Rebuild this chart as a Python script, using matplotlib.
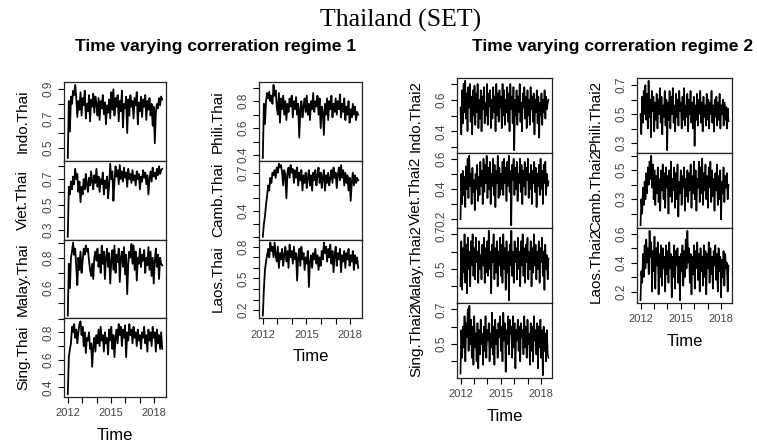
import numpy as np
import matplotlib
matplotlib.use('Agg')
import matplotlib.pyplot as plt
from matplotlib.ticker import MultipleLocator, FuncFormatter

W, H = 757, 447
START, END = 2012.0, 2018.55

# regime 1 correlations
indo = [0.43, 0.82, 0.61, 0.85, 0.80, 0.89, 0.86, 0.93, 0.84, 0.71, 0.82, 0.76, 0.88, 0.72, 0.84, 0.79, 0.89, 0.70,
        0.80, 0.75, 0.86, 0.68, 0.83, 0.78, 0.87, 0.74, 0.85, 0.80, 0.72, 0.84, 0.69, 0.82, 0.77, 0.86, 0.73, 0.81,
        0.66, 0.79, 0.74, 0.83, 0.70, 0.88, 0.76, 0.90, 0.72, 0.84, 0.78, 0.86, 0.68, 0.82, 0.75, 0.89, 0.64, 0.80,
        0.77, 0.85, 0.60, 0.83, 0.72, 0.86, 0.78, 0.82, 0.70, 0.84, 0.79, 0.88, 0.66, 0.81, 0.75, 0.85, 0.71, 0.83,
        0.78, 0.86, 0.69, 0.82, 0.76, 0.84, 0.72, 0.80, 0.65, 0.78, 0.53, 0.74, 0.80, 0.77, 0.84, 0.79, 0.85, 0.83]
viet = [0.25, 0.64, 0.58, 0.68, 0.62, 0.72, 0.66, 0.78, 0.70, 0.74, 0.60, 0.68, 0.52, 0.64, 0.58, 0.70, 0.62, 0.74,
        0.66, 0.60, 0.71, 0.65, 0.76, 0.68, 0.62, 0.73, 0.67, 0.78, 0.64, 0.72, 0.60, 0.70, 0.66, 0.75, 0.58, 0.69,
        0.63, 0.72, 0.55, 0.66, 0.82, 0.70, 0.76, 0.53, 0.68, 0.80, 0.72, 0.77, 0.66, 0.81, 0.70, 0.76, 0.68, 0.79,
        0.71, 0.75, 0.64, 0.78, 0.70, 0.74, 0.67, 0.77, 0.69, 0.73, 0.65, 0.76, 0.70, 0.74, 0.62, 0.72, 0.68, 0.77,
        0.71, 0.75, 0.66, 0.73, 0.58, 0.70, 0.76, 0.68, 0.79, 0.72, 0.75, 0.70, 0.78, 0.73, 0.80, 0.74, 0.77, 0.78]
malay = [0.42, 0.76, 0.60, 0.80, 0.84, 0.90, 0.82, 0.86, 0.74, 0.62, 0.80, 0.72, 0.84, 0.70, 0.78, 0.86, 0.82, 0.88,
         0.84, 0.86, 0.78, 0.72, 0.68, 0.76, 0.66, 0.80, 0.84, 0.78, 0.86, 0.74, 0.82, 0.70, 0.88, 0.76, 0.84, 0.66,
         0.80, 0.86, 0.74, 0.83, 0.63, 0.78, 0.85, 0.72, 0.88, 0.70, 0.82, 0.77, 0.86, 0.64, 0.80, 0.84, 0.74, 0.87,
         0.69, 0.82, 0.56, 0.76, 0.84, 0.80, 0.89, 0.76, 0.88, 0.72, 0.84, 0.65, 0.80, 0.76, 0.86, 0.74, 0.82, 0.78,
         0.85, 0.70, 0.80, 0.75, 0.87, 0.72, 0.84, 0.68, 0.80, 0.63, 0.78, 0.86, 0.74, 0.82, 0.66, 0.80, 0.76, 0.75]
sing = [0.35, 0.62, 0.68, 0.72, 0.84, 0.80, 0.86, 0.76, 0.82, 0.72, 0.80, 0.86, 0.88, 0.78, 0.84, 0.70, 0.80, 0.65,
        0.76, 0.74, 0.80, 0.68, 0.72, 0.55, 0.70, 0.76, 0.66, 0.78, 0.72, 0.82, 0.70, 0.84, 0.74, 0.78, 0.66, 0.80,
        0.72, 0.76, 0.64, 0.82, 0.74, 0.84, 0.68, 0.78, 0.62, 0.76, 0.82, 0.72, 0.86, 0.78, 0.84, 0.70, 0.82, 0.76,
        0.85, 0.62, 0.80, 0.74, 0.86, 0.78, 0.82, 0.72, 0.84, 0.76, 0.80, 0.70, 0.82, 0.74, 0.78, 0.68, 0.80, 0.76,
        0.84, 0.72, 0.78, 0.66, 0.82, 0.74, 0.80, 0.70, 0.84, 0.76, 0.80, 0.66, 0.82, 0.72, 0.78, 0.68, 0.80, 0.68]
phili = [0.38, 0.78, 0.63, 0.80, 0.86, 0.82, 0.87, 0.80, 0.84, 0.78, 0.92, 0.84, 0.88, 0.76, 0.70, 0.86, 0.64, 0.82,
         0.74, 0.84, 0.70, 0.80, 0.66, 0.78, 0.72, 0.82, 0.76, 0.84, 0.68, 0.80, 0.74, 0.83, 0.70, 0.78, 0.53, 0.74,
         0.80, 0.68, 0.76, 0.82, 0.72, 0.84, 0.70, 0.78, 0.66, 0.80, 0.74, 0.86, 0.72, 0.80, 0.76, 0.84, 0.70, 0.82,
         0.60, 0.76, 0.72, 0.55, 0.78, 0.70, 0.82, 0.66, 0.80, 0.74, 0.84, 0.68, 0.78, 0.72, 0.82, 0.70, 0.80, 0.74,
         0.85, 0.68, 0.78, 0.72, 0.82, 0.66, 0.76, 0.70, 0.80, 0.64, 0.74, 0.68, 0.78, 0.70, 0.76, 0.66, 0.72, 0.70]
camb = [0.20, 0.30, 0.36, 0.45, 0.52, 0.60, 0.56, 0.66, 0.62, 0.70, 0.68, 0.72, 0.66, 0.74, 0.70, 0.77, 0.74, 0.76,
        0.70, 0.60, 0.72, 0.68, 0.50, 0.70, 0.74, 0.66, 0.76, 0.70, 0.73, 0.62, 0.72, 0.66, 0.74, 0.60, 0.70, 0.64,
        0.72, 0.56, 0.68, 0.62, 0.70, 0.58, 0.66, 0.72, 0.60, 0.68, 0.56, 0.70, 0.64, 0.72, 0.60, 0.68, 0.74, 0.62,
        0.70, 0.58, 0.66, 0.72, 0.56, 0.68, 0.62, 0.70, 0.60, 0.66, 0.72, 0.62, 0.74, 0.66, 0.70, 0.58, 0.68, 0.74,
        0.64, 0.76, 0.66, 0.72, 0.60, 0.70, 0.62, 0.68, 0.56, 0.66, 0.48, 0.62, 0.70, 0.60, 0.68, 0.62, 0.66, 0.64]
laos = [0.15, 0.40, 0.58, 0.66, 0.72, 0.78, 0.70, 0.84, 0.76, 0.80, 0.70, 0.84, 0.72, 0.66, 0.80, 0.60, 0.74, 0.68,
        0.78, 0.62, 0.72, 0.80, 0.66, 0.76, 0.60, 0.82, 0.70, 0.76, 0.64, 0.80, 0.68, 0.74, 0.48, 0.70, 0.78, 0.62,
        0.80, 0.68, 0.74, 0.58, 0.70, 0.64, 0.76, 0.42, 0.66, 0.72, 0.60, 0.74, 0.68, 0.78, 0.64, 0.72, 0.58, 0.70,
        0.62, 0.76, 0.68, 0.84, 0.74, 0.80, 0.66, 0.78, 0.70, 0.82, 0.64, 0.76, 0.56, 0.72, 0.80, 0.62, 0.74, 0.68,
        0.78, 0.56, 0.72, 0.66, 0.76, 0.60, 0.74, 0.68, 0.78, 0.62, 0.72, 0.66, 0.76, 0.58, 0.72, 0.64, 0.70, 0.60]

# regime 2 correlations
indo2 = [0.55, 0.38, 0.66, 0.45, 0.70, 0.52, 0.72, 0.48, 0.64, 0.40, 0.68, 0.55, 0.70, 0.46, 0.62, 0.38, 0.66, 0.50,
         0.69, 0.44, 0.64, 0.52, 0.70, 0.42, 0.60, 0.48, 0.66, 0.40, 0.62, 0.54, 0.68, 0.45, 0.58, 0.50, 0.70, 0.44,
         0.64, 0.56, 0.66, 0.42, 0.60, 0.48, 0.68, 0.52, 0.62, 0.40, 0.70, 0.50, 0.64, 0.46, 0.66, 0.55, 0.62, 0.42,
         0.70, 0.50, 0.66, 0.44, 0.60, 0.52, 0.68, 0.46, 0.64, 0.40, 0.70, 0.54, 0.62, 0.45, 0.68, 0.28, 0.60, 0.50,
         0.66, 0.44, 0.62, 0.52, 0.70, 0.46, 0.58, 0.40, 0.64, 0.55, 0.68, 0.48, 0.62, 0.42, 0.66, 0.50, 0.60, 0.44,
         0.68, 0.54, 0.62, 0.46, 0.64, 0.38, 0.60, 0.52, 0.66, 0.45, 0.62, 0.36, 0.58, 0.50, 0.64, 0.44, 0.60, 0.52,
         0.66, 0.48, 0.62, 0.54, 0.58, 0.60]
viet2 = [0.20, 0.50, 0.30, 0.52, 0.36, 0.48, 0.28, 0.55, 0.40, 0.60, 0.34, 0.62, 0.42, 0.50, 0.30, 0.54, 0.38, 0.46,
         0.26, 0.50, 0.40, 0.56, 0.32, 0.48, 0.36, 0.58, 0.42, 0.52, 0.30, 0.60, 0.38, 0.56, 0.44, 0.62, 0.34, 0.54,
         0.40, 0.58, 0.30, 0.50, 0.42, 0.60, 0.36, 0.56, 0.28, 0.52, 0.44, 0.62, 0.34, 0.54, 0.36, 0.50, 0.40, 0.58,
         0.36, 0.60, 0.44, 0.54, 0.32, 0.58, 0.42, 0.62, 0.38, 0.52, 0.16, 0.56, 0.46, 0.60, 0.36, 0.54, 0.40, 0.58,
         0.32, 0.50, 0.44, 0.60, 0.38, 0.56, 0.30, 0.52, 0.42, 0.58, 0.36, 0.54, 0.46, 0.60, 0.34, 0.50, 0.40, 0.56,
         0.30, 0.52, 0.44, 0.58, 0.38, 0.54, 0.28, 0.50, 0.42, 0.56, 0.36, 0.60, 0.40, 0.52, 0.30, 0.56, 0.44, 0.58,
         0.36, 0.50, 0.42, 0.45]
malay2 = [0.40, 0.66, 0.38, 0.62, 0.48, 0.70, 0.42, 0.64, 0.36, 0.68, 0.50, 0.60, 0.40, 0.66, 0.52, 0.70, 0.46, 0.62,
          0.44, 0.68, 0.54, 0.60, 0.42, 0.66, 0.50, 0.58, 0.44, 0.64, 0.52, 0.68, 0.42, 0.62, 0.48, 0.66, 0.46, 0.72,
          0.50, 0.60, 0.36, 0.64, 0.54, 0.70, 0.44, 0.62, 0.48, 0.66, 0.40, 0.60, 0.52, 0.68, 0.46, 0.64, 0.42, 0.70,
          0.50, 0.62, 0.38, 0.66, 0.48, 0.60, 0.32, 0.64, 0.52, 0.72, 0.46, 0.60, 0.42, 0.66, 0.54, 0.62, 0.44, 0.68,
          0.50, 0.60, 0.40, 0.66, 0.52, 0.70, 0.46, 0.62, 0.42, 0.64, 0.54, 0.68, 0.44, 0.60, 0.50, 0.66, 0.40, 0.62,
          0.48, 0.70, 0.52, 0.64, 0.44, 0.60, 0.50, 0.66, 0.42, 0.62, 0.54, 0.68, 0.46, 0.60, 0.38, 0.64, 0.50, 0.58,
          0.44, 0.56]
sing2 = [0.33, 0.58, 0.42, 0.60, 0.48, 0.66, 0.40, 0.62, 0.54, 0.70, 0.46, 0.72, 0.50, 0.64, 0.42, 0.60, 0.38, 0.66,
         0.48, 0.56, 0.40, 0.62, 0.36, 0.58, 0.44, 0.64, 0.50, 0.56, 0.38, 0.60, 0.46, 0.66, 0.42, 0.58, 0.52, 0.62,
         0.40, 0.56, 0.48, 0.68, 0.44, 0.60, 0.38, 0.64, 0.50, 0.58, 0.42, 0.62, 0.54, 0.66, 0.46, 0.60, 0.40, 0.68,
         0.52, 0.62, 0.34, 0.58, 0.50, 0.66, 0.44, 0.64, 0.56, 0.60, 0.42, 0.66, 0.48, 0.62, 0.36, 0.58, 0.52, 0.64,
         0.46, 0.60, 0.40, 0.62, 0.54, 0.58, 0.44, 0.66, 0.48, 0.60, 0.42, 0.64, 0.50, 0.56, 0.38, 0.62, 0.46, 0.60,
         0.40, 0.66, 0.52, 0.58, 0.44, 0.62, 0.36, 0.60, 0.48, 0.64, 0.42, 0.58, 0.32, 0.60, 0.46, 0.56, 0.40, 0.58,
         0.44, 0.42]
phili2 = [0.50, 0.36, 0.62, 0.44, 0.66, 0.50, 0.70, 0.46, 0.64, 0.40, 0.73, 0.48, 0.60, 0.34, 0.66, 0.52, 0.62, 0.38,
          0.58, 0.46, 0.64, 0.40, 0.60, 0.50, 0.68, 0.44, 0.62, 0.36, 0.56, 0.48, 0.66, 0.42, 0.60, 0.25, 0.58, 0.46,
          0.66, 0.40, 0.62, 0.50, 0.68, 0.44, 0.56, 0.38, 0.64, 0.48, 0.60, 0.42, 0.66, 0.52, 0.58, 0.40, 0.62, 0.46,
          0.68, 0.42, 0.56, 0.48, 0.64, 0.38, 0.60, 0.50, 0.66, 0.44, 0.58, 0.40, 0.62, 0.28, 0.56, 0.46, 0.64, 0.42,
          0.60, 0.50, 0.66, 0.44, 0.58, 0.38, 0.62, 0.48, 0.56, 0.42, 0.64, 0.46, 0.60, 0.40, 0.58, 0.50, 0.66, 0.44,
          0.56, 0.38, 0.60, 0.48, 0.62, 0.42, 0.58, 0.46, 0.64, 0.40, 0.56, 0.50, 0.60, 0.42, 0.58, 0.46, 0.55, 0.40,
          0.54, 0.45]
camb2 = [0.12, 0.30, 0.20, 0.38, 0.26, 0.42, 0.30, 0.48, 0.34, 0.52, 0.40, 0.56, 0.44, 0.60, 0.38, 0.54, 0.30, 0.50,
         0.26, 0.46, 0.34, 0.52, 0.28, 0.44, 0.22, 0.50, 0.36, 0.54, 0.30, 0.48, 0.24, 0.52, 0.38, 0.46, 0.20, 0.50,
         0.32, 0.56, 0.28, 0.44, 0.36, 0.52, 0.24, 0.48, 0.30, 0.54, 0.18, 0.42, 0.34, 0.50, 0.26, 0.46, 0.38, 0.52,
         0.22, 0.44, 0.32, 0.50, 0.28, 0.48, 0.36, 0.54, 0.24, 0.46, 0.34, 0.56, 0.30, 0.50, 0.22, 0.44, 0.38, 0.56,
         0.28, 0.52, 0.34, 0.58, 0.26, 0.48, 0.36, 0.54, 0.30, 0.46, 0.24, 0.52, 0.38, 0.56, 0.28, 0.50, 0.32, 0.44,
         0.22, 0.48, 0.36, 0.54, 0.26, 0.46, 0.30, 0.50, 0.16, 0.42, 0.34, 0.52, 0.28, 0.46, 0.38, 0.48, 0.30, 0.40]
laos2 = [0.14, 0.34, 0.26, 0.46, 0.30, 0.52, 0.36, 0.56, 0.40, 0.50, 0.32, 0.62, 0.44, 0.54, 0.20, 0.48, 0.34, 0.58,
         0.22, 0.50, 0.38, 0.54, 0.18, 0.46, 0.30, 0.52, 0.24, 0.50, 0.36, 0.44, 0.20, 0.52, 0.32, 0.48, 0.26, 0.54,
         0.36, 0.46, 0.16, 0.44, 0.30, 0.52, 0.22, 0.48, 0.38, 0.50, 0.26, 0.44, 0.14, 0.46, 0.34, 0.52, 0.24, 0.48,
         0.30, 0.56, 0.36, 0.62, 0.40, 0.50, 0.26, 0.46, 0.18, 0.44, 0.32, 0.52, 0.22, 0.48, 0.36, 0.54, 0.28, 0.46,
         0.20, 0.50, 0.34, 0.44, 0.24, 0.52, 0.30, 0.48, 0.18, 0.46, 0.36, 0.54, 0.26, 0.50, 0.32, 0.44, 0.22, 0.48,
         0.38, 0.52, 0.28, 0.46, 0.20, 0.50, 0.34, 0.44, 0.16, 0.42, 0.30, 0.48, 0.24, 0.46, 0.36, 0.40, 0.20, 0.38]

# (name, series, labelled ticks)
col1 = [('Indo.Thai', indo, [0.5, 0.7, 0.9]), ('Viet.Thai', viet, [0.3, 0.5, 0.7]),
        ('Malay.Thai', malay, [0.4, 0.6, 0.8]), ('Sing.Thai', sing, [0.4, 0.6, 0.8])]
col2 = [('Phili.Thai', phili, [0.4, 0.6, 0.8]), ('Camb.Thai', camb, [0.4, 0.7]),
        ('Laos.Thai', laos, [0.2, 0.5, 0.8])]
col3 = [('Indo.Thai2', indo2, [0.4, 0.6]), ('Viet.Thai2', viet2, [0.2, 0.4, 0.6]),
        ('Malay.Thai2', malay2, [0.3, 0.5, 0.7]), ('Sing.Thai2', sing2, [0.3, 0.5, 0.7])]
col4 = [('Phili.Thai2', phili2, [0.3, 0.5, 0.7]), ('Camb.Thai2', camb2, [0.1, 0.3, 0.5]),
        ('Laos.Thai2', laos2, [0.2, 0.4, 0.6])]
year_ticks = [2012, 2013, 2014, 2015, 2016, 2017, 2018]
year_labels = [2012, 2015, 2018]

plt.rcParams['font.family'] = ['Liberation Sans', 'DejaVu Sans']
fig = plt.figure(figsize=(W / 100, H / 100), dpi=100)


def draw_column(panels, x0, x1, y0, ph, lw):
    for k, (name, vals, labelled) in enumerate(panels):
        top = y0 + k * ph
        ax = fig.add_axes([x0 / W, 1 - (top + ph) / H, (x1 - x0) / W, ph / H])
        t = np.linspace(START, END, len(vals))
        ax.plot(t, vals, color='black', lw=lw)
        ax.margins(x=0.04, y=0.04)
        ax.yaxis.set_major_locator(MultipleLocator(0.1))
        ax.yaxis.set_major_formatter(FuncFormatter(
            lambda v, p, lab=labelled: '%.1f' % v if any(abs(v - l) < 1e-6 for l in lab) else ''))
        ax.tick_params(axis='y', labelsize=8.5, labelcolor='#444444', length=4, width=0.8,
                       labelrotation=90, pad=3)
        for lb in ax.get_yticklabels():
            lb.set_verticalalignment('center')
        ax.set_ylabel(name, fontsize=11)
        ax.yaxis.set_label_coords(-34.0 / (x1 - x0), 0.5)
        ax.set_xticks(year_ticks)
        if k == len(panels) - 1:
            ax.set_xticklabels([str(y) if y in year_labels else '' for y in year_ticks])
            ax.tick_params(axis='x', labelsize=8, labelcolor='#444444', length=4, width=0.8, pad=4)
            ax.set_xlabel('Time', fontsize=12, labelpad=7)
        else:
            ax.tick_params(axis='x', length=0, labelbottom=False)
        for s in ax.spines.values():
            s.set_linewidth(0.9)
            s.set_color('#222222')


draw_column(col1, 64, 166, 82, 78.8, 1.3)
draw_column(col2, 259, 362, 82, 78.8, 1.3)
draw_column(col3, 457, 552, 78, 75, 1.2)
draw_column(col4, 637, 732, 78, 75, 1.2)

fig.text(401 / W, 1 - 20 / H, 'Thailand (SET)', family=['Liberation Serif', 'DejaVu Serif'],
         fontsize=18.5, ha='center', va='center')
fig.text(216 / W, 1 - 47 / H, 'Time varying correration regime 1', fontsize=12.6,
         fontweight='bold', ha='center', va='center')
fig.text(613 / W, 1 - 47 / H, 'Time varying correration regime 2', fontsize=12.6,
         fontweight='bold', ha='center', va='center')

fig.savefig('out.png', dpi=100)
